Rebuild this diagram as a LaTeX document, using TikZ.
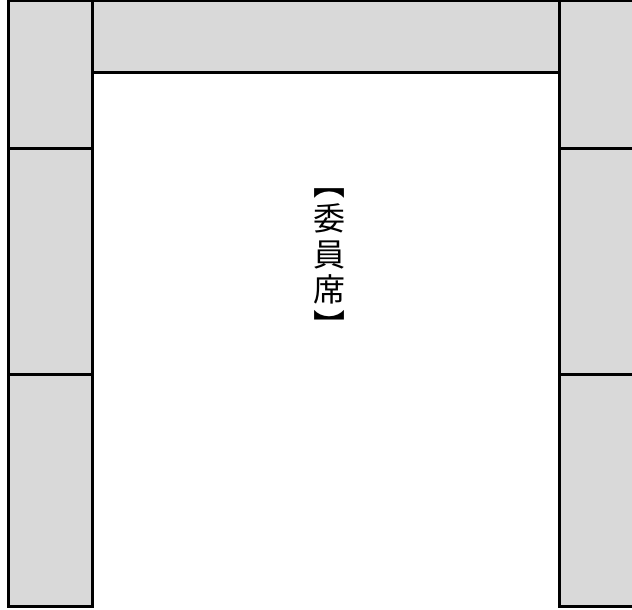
\documentclass[tikz,border=0pt]{standalone}
\usepackage{fontspec}
\newfontfamily\jpfont{Noto Sans CJK JP}
\definecolor{SeatGray}{HTML}{D9D9D9}
\tikzset{
  seatbox/.style={draw=black, fill=SeatGray, line width=3pt},
  seatlabel/.style={font=\jpfont\fontsize{32}{35.5}\selectfont, align=center, inner sep=0pt},
}
\begin{document}
\begin{tikzpicture}[x=1pt,y=-1pt]
  \useasboundingbox (0,0) rectangle (632,610);
  % left column of seats
  \draw[seatbox] (8.5,0.5) rectangle (92.5,148.5);
  \draw[seatbox] (8.5,148.5) rectangle (92.5,374.5);
  \draw[seatbox] (8.5,374.5) rectangle (92.5,606.5);
  % right column of seats
  \draw[seatbox] (559.5,0.5) rectangle (640,148.5);
  \draw[seatbox] (559.5,148.5) rectangle (640,374.5);
  \draw[seatbox] (559.5,374.5) rectangle (640,606.5);
  % top row
  \draw[seatbox] (92.5,0.5) rectangle (559.5,73);
  \node[seatlabel] (iin) at (329,263) {︻\\委\\員\\席\\︼};
\end{tikzpicture}
\end{document}
